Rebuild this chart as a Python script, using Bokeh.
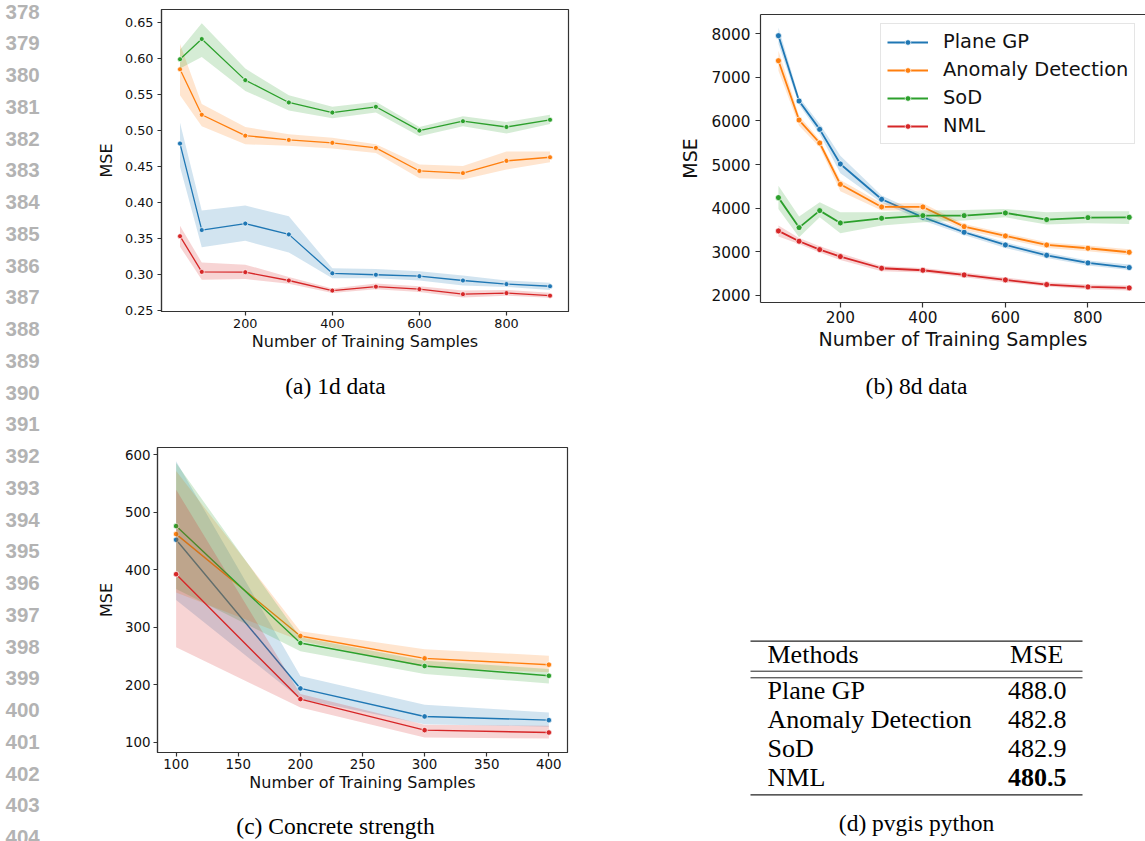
from bokeh.plotting import figure
from bokeh.layouts import row, column
from bokeh.models import (Range1d, FixedTicker, NumeralTickFormatter, LinearAxis,
                          Legend, LegendItem)
from bokeh.core.properties import value
from bokeh.embed import file_html
from bokeh.resources import INLINE

# ---------------- data ----------------
METHODS = ["Plane GP", "Anomaly Detection", "SoD", "NML"]
COLORS = ["#1f77b4", "#ff7f0e", "#2ca02c", "#d62728"]

# (a) 1d data
A_X = [50, 100, 200, 300, 400, 500, 600, 700, 800, 900]
A_PLANE = [0.482, 0.362, 0.371, 0.356, 0.302, 0.300, 0.298, 0.292, 0.287, 0.284]
A_PLANE_LO = [0.450, 0.338, 0.347, 0.331, 0.295, 0.295, 0.292, 0.285, 0.283, 0.279]
A_PLANE_HI = [0.511, 0.389, 0.396, 0.381, 0.309, 0.308, 0.305, 0.299, 0.292, 0.289]
A_AD = [0.585, 0.522, 0.493, 0.487, 0.483, 0.476, 0.444, 0.441, 0.458, 0.463]
A_AD_LO = [0.549, 0.506, 0.481, 0.479, 0.475, 0.469, 0.434, 0.432, 0.446, 0.456]
A_AD_HI = [0.620, 0.537, 0.505, 0.495, 0.490, 0.481, 0.453, 0.451, 0.471, 0.471]
A_SOD = [0.599, 0.627, 0.570, 0.539, 0.525, 0.533, 0.500, 0.513, 0.505, 0.515]
A_SOD_LO = [0.586, 0.602, 0.555, 0.528, 0.517, 0.525, 0.492, 0.506, 0.496, 0.509]
A_SOD_HI = [0.612, 0.649, 0.586, 0.549, 0.533, 0.540, 0.505, 0.520, 0.512, 0.522]
A_NML = [0.3535, 0.304, 0.3035, 0.292, 0.278, 0.2835, 0.280, 0.273, 0.2745, 0.271]
A_NML_LO = [0.339, 0.293, 0.294, 0.2875, 0.2745, 0.280, 0.276, 0.2685, 0.271, 0.268]
A_NML_HI = [0.368, 0.317, 0.314, 0.297, 0.281, 0.288, 0.284, 0.278, 0.279, 0.275]

# (b) 8d data
B_X = [50, 100, 150, 200, 300, 400, 500, 600, 700, 800, 900]
B_PLANE = [7956, 6457, 5807, 5012, 4202, 3789, 3445, 3154, 2917, 2742, 2635]
B_PLANE_LO = [7765, 6373, 5700, 4798, 4125, 3713, 3384, 3086, 2856, 2680, 2581]
B_PLANE_HI = [8147, 6541, 5930, 5203, 4286, 3850, 3498, 3216, 2979, 2795, 2703]
B_AD = [7382, 6021, 5494, 4546, 4026, 4026, 3575, 3361, 3154, 3078, 2986]
B_AD_LO = [7153, 5891, 5394, 4385, 3942, 3942, 3498, 3292, 3086, 3009, 2917]
B_AD_HI = [7612, 6121, 5563, 4645, 4110, 4110, 3636, 3422, 3216, 3139, 3055]
B_SOD = [4240, 3552, 3942, 3659, 3766, 3827, 3827, 3888, 3735, 3781, 3789]
B_SOD_LO = [3980, 3330, 3789, 3422, 3598, 3674, 3713, 3789, 3621, 3651, 3636]
B_SOD_HI = [4515, 3804, 4133, 3904, 3904, 3942, 3957, 3980, 3904, 3927, 3927]
B_NML = [3476, 3239, 3047, 2887, 2619, 2573, 2466, 2352, 2245, 2191, 2168]
B_NML_LO = [3346, 3177, 2979, 2810, 2550, 2520, 2413, 2298, 2199, 2138, 2107]
B_NML_HI = [3598, 3315, 3124, 2963, 2673, 2627, 2520, 2405, 2298, 2245, 2222]

# (c) Concrete strength
C_X = [100, 200, 300, 400]
C_PLANE = [452.5, 194.0, 145.3, 138.9]
C_PLANE_LO = [348.0, 175.5, 131.9, 127.5]
C_PLANE_HI = [589.0, 215.6, 165.6, 152.3]
C_AD = [462.4, 285.2, 246.3, 235.3]
C_AD_LO = [361.0, 277.0, 230.7, 222.0]
C_AD_HI = [572.0, 293.4, 262.0, 251.0]
C_SOD = [476.3, 273.0, 233.0, 216.0]
C_SOD_LO = [367.0, 258.5, 219.0, 202.8]
C_SOD_HI = [586.0, 283.0, 242.3, 228.0]
C_NML = [392.7, 175.5, 121.5, 117.4]
C_NML_LO = [265.5, 161.0, 108.7, 107.0]
C_NML_HI = [539.6, 184.2, 130.8, 129.0]

A_XTICKS = [200, 400, 600, 800]
A_YTICKS = [0.25, 0.30, 0.35, 0.40, 0.45, 0.50, 0.55, 0.60, 0.65]
B_XTICKS = [200, 400, 600, 800]
B_YTICKS = [2000, 3000, 4000, 5000, 6000, 7000, 8000]
C_XTICKS = [100, 150, 200, 250, 300, 350, 400]
C_YTICKS = [100, 200, 300, 400, 500, 600]

TABLE_METHODS = ["Plane GP", "Anomaly Detection", "SoD", "NML"]
TABLE_MSE = [488.0, 482.8, 482.9, 480.5]

CAPTIONS = ["(a) 1d data", "(b) 8d data", "(c) Concrete strength", "(d) pvgis python"]
LINE_NUMBERS = [str(n) for n in range(378, 405)]
X_LABEL = "Number of Training Samples"
Y_LABEL = "MSE"

SPINE = "#333333"
TXT = "#111111"


def style_axis(ax, tick_px, label_px, tick_out, tick_standoff, label_standoff):
    ax.axis_line_color = SPINE
    ax.axis_line_width = 1.2
    ax.major_tick_line_color = SPINE
    ax.major_tick_line_width = 1.2
    ax.major_tick_out = tick_out
    ax.major_tick_in = 0
    ax.minor_tick_line_color = None
    ax.major_label_text_font = "DejaVu Sans"
    ax.major_label_text_font_size = f"{tick_px}px"
    ax.major_label_text_color = TXT
    ax.major_label_standoff = tick_standoff
    ax.axis_label_text_font = "DejaVu Sans"
    ax.axis_label_text_font_size = f"{label_px}px"
    ax.axis_label_text_font_style = "normal"
    ax.axis_label_text_color = TXT
    ax.axis_label_standoff = label_standoff


def panel(width, height, xr, yr, borders, xs, series, xticks, yticks, yfmt,
          tick_px, label_px, lw, msize, tick_out, tstand_x, tstand_y, lstand_x, lstand_y,
          outline=True):
    bl, br, bt, bb = borders
    p = figure(width=width, height=height, x_range=Range1d(*xr), y_range=Range1d(*yr),
               output_backend="svg", toolbar_location=None, title=None,
               min_border_left=bl, min_border_right=br, min_border_top=bt,
               min_border_bottom=bb)
    p.grid.visible = False
    p.background_fill_color = "white"
    p.border_fill_color = "white"
    if outline:
        p.outline_line_color = SPINE
        p.outline_line_width = 1.2
        p.outline_line_alpha = 1.0
    else:
        p.outline_line_color = None
    p.xaxis.ticker = FixedTicker(ticks=xticks)
    p.yaxis.ticker = FixedTicker(ticks=yticks)
    if yfmt:
        p.yaxis.formatter = NumeralTickFormatter(format=yfmt)
    p.xaxis.axis_label = X_LABEL
    p.yaxis.axis_label = Y_LABEL
    for ax in p.xaxis:
        style_axis(ax, tick_px, label_px, tick_out, tstand_x, lstand_x)
    for ax in p.yaxis:
        style_axis(ax, tick_px, label_px, tick_out, tstand_y, lstand_y)
    rends = []
    for (y, lo, hi), c in zip(series, COLORS):
        p.varea(x=xs, y1=lo, y2=hi, fill_color=c, fill_alpha=0.2)
        ln = p.line(xs, y, line_color=c, line_width=lw)
        sc = p.scatter(xs, y, size=msize, marker="circle", fill_color=c,
                       line_color="white", line_width=0.7)
        rends.append([ln, sc])
    return p, rends


def text_canvas(width, height, x0, y0):
    p = figure(width=width, height=height, x_range=Range1d(x0, x0 + width),
               y_range=Range1d(y0 + height, y0), output_backend="svg",
               toolbar_location=None, title=None, min_border=0,
               x_axis_type=None, y_axis_type=None)
    p.outline_line_color = None
    p.background_fill_color = "white"
    p.border_fill_color = "white"
    return p


SERIF = value("Liberation Serif")
TOP_H = 360

# ---- panel (a) ----
figA, _ = panel(520, TOP_H, (7.5, 942.5), (0.249, 0.668), (101, 12, 9, TOP_H - 311), A_X,
                [(A_PLANE, A_PLANE_LO, A_PLANE_HI), (A_AD, A_AD_LO, A_AD_HI),
                 (A_SOD, A_SOD_LO, A_SOD_HI), (A_NML, A_NML_LO, A_NML_HI)],
                A_XTICKS, A_YTICKS, "0.00", 12.8, 16, 1.3, 5, 4, 3, 4, 1, 6)

# ---- panel (b) ----
figB, rendsB = panel(565, TOP_H, (6.5, 939.5), (1833, 8443), (180, 0, 14, TOP_H - 302), B_X,
                     [(B_PLANE, B_PLANE_LO, B_PLANE_HI), (B_AD, B_AD_LO, B_AD_HI),
                      (B_SOD, B_SOD_LO, B_SOD_HI), (B_NML, B_NML_LO, B_NML_HI)],
                     B_XTICKS, B_YTICKS, None, 15.3, 19, 1.8, 6, 5, 3, 5, 2, 8,
                     outline=False)
top_axis = LinearAxis(ticker=FixedTicker(ticks=[]), axis_line_color=SPINE,
                      axis_line_width=1.2, major_label_text_font_size="0px",
                      major_tick_line_color=None, minor_tick_line_color=None)
figB.add_layout(top_axis, "above")
legend = Legend(items=[LegendItem(label=m, renderers=r) for m, r in zip(METHODS, rendsB)],
                location=(120, 158), margin=0, padding=6, spacing=5,
                glyph_width=41, glyph_height=14, label_height=20, label_standoff=15,
                label_text_font="DejaVu Sans", label_text_font_size="19.4px",
                label_text_color=TXT, border_line_color="#cccccc",
                border_line_width=1, background_fill_color="white",
                background_fill_alpha=0.8)
figB.add_layout(legend)

# ---- panel (c) ----
figC, _ = panel(520, 390, (85, 415), (82.6, 613), (97, 13, 37, 48), C_X,
                [(C_PLANE, C_PLANE_LO, C_PLANE_HI), (C_AD, C_AD_LO, C_AD_HI),
                 (C_SOD, C_SOD_LO, C_SOD_HI), (C_NML, C_NML_LO, C_NML_HI)],
                C_XTICKS, C_YTICKS, None, 13.4, 16, 1.4, 5.5, 4, 2, 3, 1, 6)

# ---- captions ----
capA = text_canvas(520, 410 - TOP_H, 60, TOP_H)
capA.text(x=[335], y=[385], text=[CAPTIONS[0]], text_font=SERIF,
          text_font_size="23.5px", text_align="center", text_baseline="middle",
          text_color="#000000")
capB = text_canvas(565, 410 - TOP_H, 580, TOP_H)
capB.text(x=[916], y=[385], text=[CAPTIONS[1]], text_font=SERIF,
          text_font_size="23.5px", text_align="center", text_baseline="middle",
          text_color="#000000")
capC = text_canvas(520, 41, 60, 800)
capC.text(x=[335], y=[825], text=[CAPTIONS[2]], text_font=SERIF,
          text_font_size="23.5px", text_align="center", text_baseline="middle",
          text_color="#000000")

# ---- table (d) ----
tab = text_canvas(565, 431, 580, 410)
RULE_X0, RULE_X1 = 750, 1082
tab.segment(x0=[RULE_X0] * 2, x1=[RULE_X1] * 2, y0=[640.7, 794.3], y1=[640.7, 794.3],
            line_color="#222222", line_width=1.3)
tab.segment(x0=[RULE_X0] * 2, x1=[RULE_X1] * 2, y0=[670.7, 677.3], y1=[670.7, 677.3],
            line_color="#222222", line_width=1.0)
NAME_X, VAL_X = 767, 1066
HEADER_Y = 654
ROW_Y0, ROW_DY = 689.7, 29.2
row_ys = [ROW_Y0 + i * ROW_DY for i in range(len(TABLE_METHODS))]
tab.text(x=[NAME_X], y=[HEADER_Y], text=["Methods"], text_font=SERIF, text_font_size="26px",
         text_align="left", text_baseline="middle", text_color="#000000")
tab.text(x=[VAL_X - 3], y=[HEADER_Y], text=["MSE"], text_font=SERIF, text_font_size="26px",
         text_align="right", text_baseline="middle", text_color="#000000")
tab.text(x=[NAME_X] * len(TABLE_METHODS), y=row_ys, text=TABLE_METHODS, text_font=SERIF,
         text_font_size="26px", text_align="left", text_baseline="middle",
         text_color="#000000")
best = TABLE_MSE.index(min(TABLE_MSE))
norm_idx = [i for i in range(len(TABLE_MSE)) if i != best]
tab.text(x=[VAL_X] * len(norm_idx), y=[row_ys[i] for i in norm_idx],
         text=[f"{TABLE_MSE[i]:.1f}" for i in norm_idx], text_font=SERIF,
         text_font_size="26px", text_align="right", text_baseline="middle",
         text_color="#000000")
tab.text(x=[VAL_X], y=[row_ys[best]], text=[f"{TABLE_MSE[best]:.1f}"], text_font=SERIF,
         text_font_size="26px", text_font_style="bold", text_align="right",
         text_baseline="middle", text_color="#000000")
tab.text(x=[916], y=[822.7], text=[CAPTIONS[3]], text_font=SERIF, text_font_size="23.5px",
         text_align="center", text_baseline="middle", text_color="#000000")

# ---- line numbers ----
lnFig = text_canvas(60, 841, 0, 0)
lnFig.text(x=[5] * len(LINE_NUMBERS), y=[11 + 31.75 * k for k in range(len(LINE_NUMBERS))],
           text=LINE_NUMBERS, text_font=value("Liberation Sans"), text_font_size="20.5px",
           text_font_style="bold", text_align="left", text_baseline="middle",
           text_color="#b3b3b3")

top = row(column(figA, row(capA)), column(figB, row(capB)))
bottom = row(column(figC, row(capC)), tab)
page = row(lnFig, column(top, bottom))

open("out.html", "w").write(file_html(page, INLINE))
